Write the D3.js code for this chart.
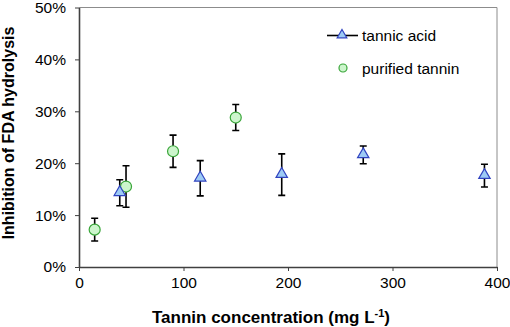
<!DOCTYPE html>
<html>
<head>
<meta charset="utf-8">
<script src="https://cdn.jsdelivr.net/npm/d3@7"></script>
<style>
  body { margin: 0; background: #fff; }
  svg { display: block; font-family: 'Liberation Sans', Arial, sans-serif; }
</style>
</head>
<body>
<svg id="chart" width="510" height="327"></svg>
<script>
// data (mg/L, % inhibition, error bar half-width)
const tannicConc = [39, 116, 194, 272, 388]
const tannicMean = [14.3, 17.1, 17.8, 21.6, 17.6]
const tannicErr = [2.5, 3.4, 4.0, 1.7, 2.2]

const purifiedConc = [15, 45, 90, 150]
const purifiedMean = [7.2, 15.5, 22.3, 28.8]
const purifiedErr = [2.2, 4.0, 3.1, 2.5]

const xTicks = [0, 100, 200, 300, 400]
const yTicks = [0, 10, 20, 30, 40, 50]

const width = 510
const height = 327
const margin = { top: 7.5, right: 13, bottom: 60, left: 79 }
const innerW = width - margin.left - margin.right
const innerH = height - margin.top - margin.bottom

const svg = d3.select('#chart')

const x = d3.scaleLinear().domain([0, 400]).range([0, innerW])
const y = d3.scaleLinear().domain([0, 50]).range([innerH, 0])

const g = svg.append('g')
  .attr('transform', `translate(${margin.left},${margin.top})`)

// frame (top and right in light grey)
g.append('path')
  .attr('d', `M0,0H${innerW}V${innerH}`)
  .attr('fill', 'none')
  .attr('stroke', '#8c8c8c')
  .attr('stroke-width', 1)

// axes
const xAxis = g.append('g')
  .attr('transform', `translate(0,${innerH})`)
  .call(d3.axisBottom(x).tickValues(xTicks).tickSize(4).tickSizeOuter(0).tickPadding(6))
const yAxis = g.append('g')
  .call(d3.axisLeft(y).tickValues(yTicks).tickSize(4).tickSizeOuter(0).tickPadding(9)
    .tickFormat((d) => d + '%'))

;[xAxis, yAxis].forEach((a) => {
  a.select('.domain').attr('stroke', '#404040').attr('stroke-width', 1.6)
  a.selectAll('.tick line').attr('stroke', '#404040').attr('stroke-width', 1)
  a.selectAll('.tick text')
    .attr('font-family', "'Liberation Sans', Arial, sans-serif")
    .attr('font-size', 15.5)
    .attr('fill', '#000')
})

// series
const tannic = tannicConc.map((c, i) => ({ c, m: tannicMean[i], e: tannicErr[i] }))
const purified = purifiedConc.map((c, i) => ({ c, m: purifiedMean[i], e: purifiedErr[i] }))

function errorBars(data) {
  const eb = g.append('g').attr('stroke', '#000').attr('stroke-width', 1.6).attr('fill', 'none')
  data.forEach((d) => {
    const cx = x(d.c)
    const y1 = y(d.m + d.e)
    const y0 = y(d.m - d.e)
    eb.append('path')
      .attr('d', `M${cx},${y1}V${y0}M${cx - 3.5},${y1}H${cx + 3.5}M${cx - 3.5},${y0}H${cx + 3.5}`)
  })
}

const triangle = d3.symbol().type(d3.symbolTriangle).size(56)

errorBars(purified)
errorBars(tannic)

g.append('g')
  .selectAll('circle')
  .data(purified)
  .join('circle')
  .attr('cx', (d) => x(d.c))
  .attr('cy', (d) => y(d.m))
  .attr('r', 5.5)
  .attr('fill', '#ccf5cc')
  .attr('stroke', '#3aa63a')
  .attr('stroke-width', 1.2)

g.append('g')
  .selectAll('path')
  .data(tannic)
  .join('path')
  .attr('d', triangle)
  .attr('transform', (d) => `translate(${x(d.c)},${y(d.m) - 0.5})`)
  .attr('fill', '#9dcbf5')
  .attr('stroke', '#3043c0')
  .attr('stroke-width', 1.2)

// legend
const lg = svg.append('g').attr('font-size', 15.5).attr('fill', '#000')
lg.append('line')
  .attr('x1', 327).attr('x2', 358).attr('y1', 35.5).attr('y2', 35.5)
  .attr('stroke', '#000').attr('stroke-width', 1.6)
lg.append('path')
  .attr('d', d3.symbol().type(d3.symbolTriangle).size(40)())
  .attr('transform', 'translate(342,35)')
  .attr('fill', '#9dcbf5').attr('stroke', '#3043c0').attr('stroke-width', 1.2)
lg.append('text').attr('x', 362).attr('y', 40.5).text('tannic acid')
lg.append('circle')
  .attr('cx', 343).attr('cy', 68).attr('r', 4)
  .attr('fill', '#ccf5cc').attr('stroke', '#3aa63a').attr('stroke-width', 1.2)
lg.append('text').attr('x', 362).attr('y', 73.5).text('purified tannin')

// axis titles
const xTitle = svg.append('text')
  .attr('x', 271)
  .attr('y', 323)
  .attr('text-anchor', 'middle')
  .attr('font-size', 17)
  .attr('font-weight', 'bold')
xTitle.append('tspan').text('Tannin concentration (mg L')
xTitle.append('tspan').attr('font-size', 11).attr('dy', -6).text('-1')
xTitle.append('tspan').attr('dy', 6).text(')')

svg.append('text')
  .attr('transform', 'translate(14,133) rotate(-90)')
  .attr('text-anchor', 'middle')
  .attr('font-size', 16)
  .attr('font-weight', 'bold')
  .text('Inhibition of FDA hydrolysis')
</script>
</body>
</html>
